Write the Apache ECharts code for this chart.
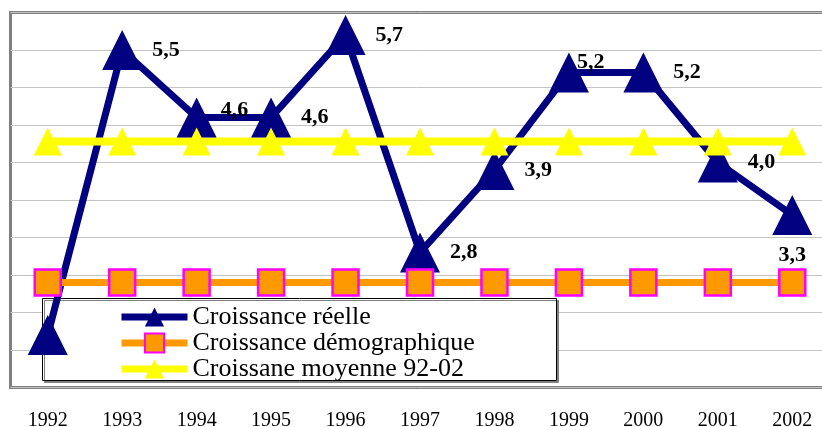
<!DOCTYPE html>
<html>
<head>
<meta charset="utf-8">
<script src="https://cdn.jsdelivr.net/npm/echarts@6/dist/echarts.min.js"></script>
<style>
  html, body { margin: 0; padding: 0; background: #fff; }
  #main { width: 822px; height: 427px; }
</style>
</head>
<body>
<div id="main"></div>
<script>
const years = ['1992', '1993', '1994', '1995', '1996', '1997', '1998', '1999', '2000', '2001', '2002'];
const croissanceReelle = [1.7, 5.5, 4.6, 4.6, 5.7, 2.8, 3.9, 5.2, 5.2, 4.0, 3.3];
const croissanceDemo = [2.4, 2.4, 2.4, 2.4, 2.4, 2.4, 2.4, 2.4, 2.4, 2.4, 2.4];
const croissanceMoyenne = [4.28, 4.28, 4.28, 4.28, 4.28, 4.28, 4.28, 4.28, 4.28, 4.28, 4.28];

const serif = 'Liberation Serif, Times New Roman, serif';

// label tweaks per point (index -> label option)
const labelTweaks = {
  0: { show: false },
  2: { offset: [-6, -7] },
  7: { offset: [-22, -10] },
  10: { position: 'bottom', distance: 9 }
};

const chart = echarts.init(document.getElementById('main'));

const reelleData = croissanceReelle.map(function (v, i) {
  return labelTweaks[i] ? { value: v, label: labelTweaks[i] } : v;
});

const option = {
  animation: false,
  grid: {
    left: 10.5,
    top: 12.5,
    width: 819,
    height: 375,
    outerBoundsMode: 'none',
    containLabel: false,
    show: true,
    borderColor: '#808080',
    borderWidth: 3,
    backgroundColor: '#fff'
  },
  xAxis: {
    type: 'category',
    data: years,
    boundaryGap: true,
    axisLine: { show: false },
    axisTick: { show: false },
    axisLabel: {
      margin: 23,
      fontSize: 20,
      color: '#000',
      fontFamily: serif
    }
  },
  yAxis: {
    type: 'value',
    min: 1,
    max: 6,
    interval: 0.5,
    axisLine: { show: false },
    axisTick: { show: false },
    axisLabel: { show: false },
    splitLine: { lineStyle: { color: '#c4c4c4', width: 1 } }
  },
  legend: {
    orient: 'vertical',
    left: 118,
    top: 304,
    padding: 0,
    itemGap: 0,
    itemWidth: 66,
    itemHeight: 24,
    itemTextGap: 0,
    lineStyle: { width: 7 },
    textStyle: {
      fontSize: 26,
      lineHeight: 24,
      color: '#000',
      fontFamily: serif
    },
    data: ['Croissance réelle', 'Croissance démographique', 'Croissane moyenne 92-02']
  },
  graphic: [{
    type: 'rect',
    z: 3,
    shape: { x: 42.5, y: 298.5, width: 514, height: 82 },
    style: {
      fill: '#fff',
      stroke: '#000',
      lineWidth: 1,
      shadowColor: '#808080',
      shadowOffsetX: 2,
      shadowOffsetY: 2,
      shadowBlur: 0
    }
  }],
  series: [
    {
      name: 'Croissance réelle',
      type: 'line',
      data: reelleData,
      symbol: 'triangle',
      symbolSize: 40,
      color: '#000080',
      lineStyle: { width: 7, color: '#000080' },
      itemStyle: { color: '#000080' },
      label: {
        show: true,
        position: 'right',
        distance: 10,
        fontSize: 22,
        fontWeight: 'bold',
        fontFamily: serif,
        color: '#000',
        formatter: function (p) {
          return p.value.toFixed(1).replace('.', ',');
        }
      }
    },
    {
      name: 'Croissance démographique',
      type: 'line',
      data: croissanceDemo,
      symbol: 'rect',
      symbolSize: 26,
      color: '#FF9900',
      lineStyle: { width: 7, color: '#FF9900' },
      itemStyle: { color: '#FF9900', borderColor: '#FF00FF', borderWidth: 2.5 }
    },
    {
      name: 'Croissane moyenne 92-02',
      type: 'line',
      data: croissanceMoyenne,
      symbol: 'triangle',
      symbolSize: 28,
      color: '#FFFF00',
      lineStyle: { width: 8, color: '#FFFF00' },
      itemStyle: { color: '#FFFF00' }
    }
  ]
};

chart.setOption(option);
</script>
</body>
</html>
